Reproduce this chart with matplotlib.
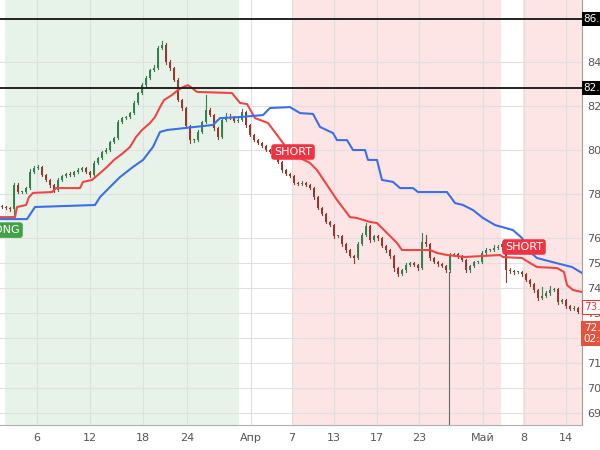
import numpy as np
import matplotlib
matplotlib.use("Agg")
import matplotlib.pyplot as plt
import matplotlib.transforms as mtransforms

# --- data (bar index, price) ---
closes = [77.41, 77.36, 77.32, 78.41, 78.09, 78.09, 78.27, 79.00, 79.18, 79.23,
          78.86, 78.64, 78.41, 78.18, 78.64, 78.82, 78.91, 78.86, 79.00, 79.09,
          79.18, 79.00, 78.86, 79.41, 79.64, 79.91, 80.00, 80.36, 80.55, 81.27,
          81.45, 81.50, 81.68, 82.14, 82.59, 82.95, 83.27, 83.64, 83.73, 84.64,
          84.77, 84.00, 83.73, 83.18, 82.27, 81.91, 81.09, 80.45, 80.45, 80.82,
          81.27, 81.82, 81.59, 81.00, 80.59, 81.36, 81.50, 81.45, 81.32, 81.36,
          81.73, 81.14, 80.68, 80.45, 80.32, 80.18, 80.00, 79.91, 79.77, 79.45,
          79.09, 78.91, 78.82, 78.50, 78.45, 78.50, 78.41, 78.27, 77.86, 77.36,
          77.09, 76.73, 76.59, 76.09, 76.09, 75.76, 75.52, 75.28, 75.20, 75.76,
          76.14, 76.55, 75.92, 76.09, 76.00, 75.68, 75.52, 75.28, 74.80, 74.56,
          74.72, 74.92, 75.00, 74.92, 74.80, 75.84, 75.76, 75.20, 75.04, 74.96,
          74.88, 74.72, 75.32, 75.36, 75.28, 75.12, 74.72, 74.88, 75.04, 75.04,
          75.40, 75.52, 75.52, 75.60, 75.64, 75.76, 74.72, 74.68, 74.64, 74.64,
          74.56, 74.32, 74.16, 73.92, 73.60, 73.68, 73.80, 73.92, 73.96, 73.44,
          73.52, 73.28, 73.16, 73.20, 73.04]
first_open = 77.45

wick_up = [0.05, 0.04, 0.06, 0.10, 0.08, 0.05, 0.06, 0.12, 0.10, 0.08,
           0.05, 0.04, 0.06, 0.05, 0.08, 0.06, 0.05, 0.07, 0.06, 0.08,
           0.05, 0.04, 0.06, 0.08, 0.06, 0.05, 0.07, 0.06, 0.05, 0.10,
           0.06, 0.05, 0.07, 0.08, 0.06, 0.10, 0.08, 0.06, 0.12, 0.10,
           0.18, 0.08, 0.10, 0.06, 0.08, 0.05, 0.06, 0.05, 0.04, 0.08,
           0.06, 0.68, 0.10, 0.06, 0.05, 0.08, 0.20, 0.15, 0.10, 0.08,
           0.12, 0.06, 0.05, 0.04, 0.05, 0.04, 0.06, 0.05, 0.04, 0.05,
           0.04, 0.05, 0.06, 0.05, 0.04, 0.08, 0.05, 0.04, 0.06, 0.05,
           0.04, 0.05, 0.06, 0.05, 0.04, 0.05, 0.06, 0.04, 0.05, 0.08,
           0.10, 0.12, 0.05, 0.06, 0.05, 0.04, 0.06, 0.05, 0.04, 0.05,
           0.06, 0.08, 0.05, 0.04, 0.05, 0.40, 0.30, 0.05, 0.04, 0.05,
           0.04, 0.05, 0.10, 0.06, 0.05, 0.04, 0.05, 0.06, 0.05, 0.04,
           0.08, 0.10, 0.06, 0.12, 0.08, 0.05, 0.06, 0.08, 0.06, 0.05,
           0.04, 0.05, 0.06, 0.05, 0.04, 0.35, 0.08, 0.15, 0.06, 0.05,
           0.04, 0.06, 0.05, 0.08, 0.05]
wick_dn = [0.06, 0.05, 0.08, 0.27, 0.06, 0.05, 0.04, 0.06, 0.05, 0.06,
           0.05, 0.06, 0.08, 0.10, 0.06, 0.05, 0.04, 0.06, 0.05, 0.04,
           0.05, 0.06, 0.08, 0.05, 0.04, 0.06, 0.05, 0.06, 0.05, 0.06,
           0.05, 0.04, 0.06, 0.05, 0.04, 0.06, 0.05, 0.04, 0.06, 0.05,
           0.06, 0.08, 0.10, 0.06, 0.05, 0.08, 0.06, 0.12, 0.08, 0.05,
           0.06, 0.05, 0.06, 0.08, 0.10, 0.05, 0.04, 0.05, 0.06, 0.05,
           0.06, 0.08, 0.06, 0.05, 0.04, 0.06, 0.05, 0.04, 0.06, 0.05,
           0.08, 0.05, 0.06, 0.05, 0.04, 0.05, 0.06, 0.05, 0.08, 0.06,
           0.05, 0.06, 0.05, 0.08, 0.05, 0.06, 0.08, 0.05, 0.20, 0.05,
           0.04, 0.06, 0.08, 0.05, 0.06, 0.05, 0.06, 0.08, 0.10, 0.08,
           0.05, 0.06, 0.05, 0.04, 0.06, 0.05, 0.06, 0.08, 0.05, 0.06,
           0.05, 0.08, 0.06, 0.05, 0.06, 0.05, 0.08, 0.06, 0.05, 0.04,
           0.05, 0.06, 0.05, 0.04, 0.05, 0.06, 0.48, 0.08, 0.06, 0.05,
           0.06, 0.05, 0.06, 0.08, 0.06, 0.05, 0.04, 0.06, 0.05, 0.06,
           0.05, 0.06, 0.05, 0.04, 0.05]

# trailing stop lines (vertices)
red_x = [-0.5, 3.25, 3.75, 6, 6.75, 7.75, 12.5, 13.5, 19.5, 20.25, 22.5, 24.5,
         26.25, 28, 30.25, 32, 33.5, 35, 37, 38.25, 39.5, 40.5, 42.5, 44, 45.25,
         46.5, 47.5, 48.75, 57.5, 59.5, 61.25, 63.25, 66.5, 70.25, 72, 77, 78.75,
         81.25, 83.75, 87, 88.75, 92, 93.75, 96.25, 98.75, 100, 107, 108.75,
         111.25, 115.75, 124.5, 125.25, 130, 132, 133.75, 138.75, 140.5, 141.25,
         142.75, 145]
red_y = [76.95, 76.95, 77.41, 77.50, 77.86, 78.05, 78.09, 78.27, 78.27, 78.55,
         78.64, 78.95, 79.23, 79.55, 79.86, 80.14, 80.59, 80.91, 81.23, 81.50,
         81.95, 82.27, 82.50, 82.73, 82.86, 82.95, 82.82, 82.64, 82.59, 82.14,
         82.09, 81.45, 81.23, 80.32, 79.86, 79.41, 79.09, 78.41, 77.73, 76.95,
         76.91, 76.73, 76.68, 76.23, 75.80, 75.52, 75.52, 75.40, 75.32, 75.24,
         75.32, 75.24, 75.20, 75.00, 74.84, 74.80, 74.64, 74.12, 73.92, 73.84]
blue_x = [-0.5, 6.25, 8.25, 23.25, 24.5, 27, 29.5, 32.75, 35.25, 37.75, 39.5,
          41.25, 52.75, 54.5, 59.5, 65.25, 67, 72, 74.5, 77.75, 79.5, 82.75,
          83.75, 86.25, 87.75, 90.75, 91.5, 93.75, 95, 97.75, 99.5, 102.75, 104,
          111.25, 113.25, 115.25, 117.75, 120.25, 123.25, 127.75, 130, 132,
          133.75, 139.5, 142.5, 145]
blue_y = [76.86, 76.86, 77.41, 77.50, 77.86, 78.32, 78.77, 79.23, 79.55, 80.14,
          80.82, 80.91, 81.14, 81.45, 81.50, 81.59, 81.91, 81.95, 81.68, 81.64,
          81.05, 80.77, 80.45, 80.45, 80.00, 80.00, 79.55, 79.55, 78.64, 78.55,
          78.27, 78.27, 78.09, 78.09, 77.59, 77.50, 77.27, 76.91, 76.59, 76.36,
          76.00, 75.44, 75.20, 74.96, 74.84, 74.60]

level_top = 85.95
level_mid = 82.82
last_box = 73.24
price_box = 72.18

tick_x = [8.75, 22, 35.25, 46.25, 62.25, 72.5, 83, 93.75, 104.25, 120.25, 130.5, 141]
tick_x_labels = ["6", "12", "18", "24", "Апр", "7", "13", "17", "23", "Май", "8", "14"]
tick_y = [84, 82, 80, 78, 76, 75, 74, 73, 72, 71, 70, 69]

long_zone = (0.75, 59.25)
short_zones = [(72.5, 124.75), (130.25, 146)]

# --- piecewise price scale like the screenshot (lower part stretched) ---
def fwd(v):
    v = np.asarray(v, dtype=float)
    return np.where(v >= 76, v, 76 - (76 - v) * 25.0 / 22.0)

def inv(t):
    t = np.asarray(t, dtype=float)
    return np.where(t >= 76, t, 76 - (76 - t) * 22.0 / 25.0)

fig = plt.figure(figsize=(6, 4.5), dpi=100)
ax = fig.add_axes([0, 25 / 450, 582 / 600, 425 / 450])
ax.set_yscale("function", functions=(fwd, inv))

n = len(closes)
opens = [first_open] + closes[:-1]

GREEN_BG = "#e7f3e8"
RED_BG = "#fde4e5"
ax.axvspan(*long_zone, color=GREEN_BG, lw=0, zorder=0)
for a, b in short_zones:
    ax.axvspan(a, b, color=RED_BG, lw=0, zorder=0)

for t in tick_x:
    ax.axvline(t, color="#e0e0e0", lw=0.8, zorder=1)
for t in tick_y:
    ax.axhline(t, color="#e0e0e0", lw=0.8, zorder=1)

# candles
for i in range(n):
    o, c = opens[i], closes[i]
    col = "#35804d" if c >= o else "#93392f"
    hi = max(o, c) + wick_up[i]
    lo = min(o, c) - wick_dn[i]
    ax.plot([i, i], [lo, hi], color=col, lw=0.8, zorder=3)
    body = max(abs(c - o), 0.04)
    ax.bar(i, body, bottom=min(o, c), width=0.72, color=col, lw=0, zorder=3)

ax.plot(red_x, red_y, color="#ee4646", lw=1.5, zorder=4)
ax.plot(blue_x, blue_y, color="#3d6ee6", lw=1.5, zorder=4)

ax.axhline(level_top, color="#222222", lw=1.4, zorder=5)
ax.axhline(level_mid, color="#222222", lw=1.4, zorder=5)

# vertical cursor line
ax.plot([111.75, 111.75], [74.64, 60], color="#666666", lw=0.8, zorder=2)

ax.set_xlim(-0.5, 145)
ax.set_ylim(68.52, 86.82)

# signal labels
ax.text(4.5, 76.36, "LONG", ha="right", va="center", color="white", fontsize=8,
        bbox=dict(boxstyle="round,pad=0.25", fc="#43a047", ec="none"), zorder=6)
ax.text(72.75, 79.91, "SHORT", ha="center", va="center", color="white", fontsize=8,
        bbox=dict(boxstyle="round,pad=0.25", fc="#ee3443", ec="none"), zorder=6)
ax.text(130.5, 75.64, "SHORT", ha="center", va="center", color="white", fontsize=8,
        bbox=dict(boxstyle="round,pad=0.25", fc="#ee3443", ec="none"), zorder=6)

# axes look
for s in ["top", "left"]:
    ax.spines[s].set_visible(False)
ax.spines["right"].set_color("#9e9e9e")
ax.spines["bottom"].set_color("#b0b0b0")
ax.yaxis.tick_right()
ax.set_yticks(tick_y)
ax.set_yticklabels([str(t) for t in tick_y])
ax.yaxis.set_minor_locator(matplotlib.ticker.NullLocator())
ax.set_xticks(tick_x)
ax.set_xticklabels(tick_x_labels)
ax.tick_params(axis="both", length=0, labelsize=8, colors="#555555")
ax.tick_params(axis="y", pad=4)
ax.tick_params(axis="x", pad=6)

# price boxes on the right scale
tr = mtransforms.blended_transform_factory(ax.transAxes, ax.transData)
ax.text(1.003, level_top, "86.0", transform=tr, ha="left", va="center", color="white",
        fontsize=7.5, bbox=dict(boxstyle="square,pad=0.2", fc="black", ec="none"),
        clip_on=False, zorder=7)
ax.text(1.003, level_mid, "82.8", transform=tr, ha="left", va="center", color="white",
        fontsize=7.5, bbox=dict(boxstyle="square,pad=0.2", fc="black", ec="none"),
        clip_on=False, zorder=7)
ax.text(1.003, last_box, "73.2", transform=tr, ha="left", va="center", color="#e53935",
        fontsize=7.5, bbox=dict(boxstyle="square,pad=0.15", fc="white", ec="#e53935", lw=0.8),
        clip_on=False, zorder=7)
ax.text(1.003, price_box, "72.5\n02:1", transform=tr, ha="left", va="center", color="white",
        fontsize=7.5, linespacing=1.05,
        bbox=dict(boxstyle="square,pad=0.25", fc="#e5533d", ec="none"),
        clip_on=False, zorder=7)

fig.savefig("out.png", dpi=100)
